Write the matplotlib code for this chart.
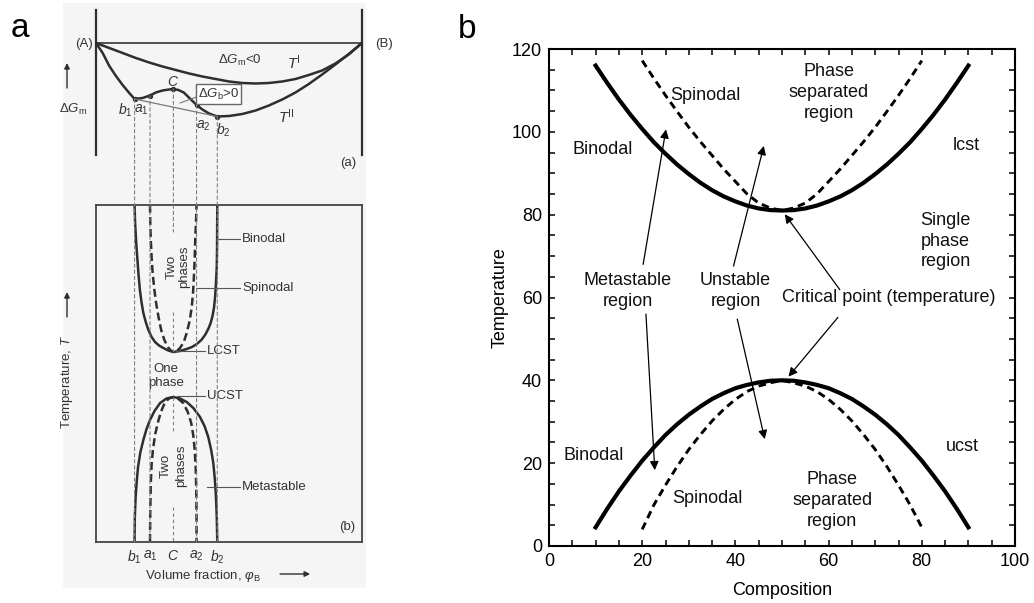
import matplotlib
matplotlib.use("Agg")
import matplotlib.pyplot as plt
from matplotlib.patches import ConnectionPatch, Rectangle
from matplotlib.ticker import MultipleLocator

plt.rcParams["font.family"] = ["Liberation Sans", "DejaVu Sans"]
plt.rcParams["mathtext.fontset"] = "custom"
plt.rcParams["mathtext.rm"] = "Liberation Sans"
plt.rcParams["mathtext.it"] = "Liberation Sans:italic"
plt.rcParams["mathtext.bf"] = "Liberation Sans:bold"

# ---------------- panel a: free-energy curves (upper part) ----------------
phi_T1 = [0, .05, .1, .15, .2, .25, .3, .35, .4, .45, .5, .55, .6, .65, .7,
          .75, .8, .85, .9, .95, 1.0]
dG_T1 = [0, -0.5, -1.0, -1.5, -1.95, -2.35, -2.7, -3.05, -3.35, -3.6, -3.85,
         -4.0, -4.05, -4.0, -3.85, -3.6, -3.2, -2.75, -2.05, -1.15, 0]

phi_T2 = [0, .025, .05, .075, .1, .125, .145, .175, .203, .225, .25, .275, .291,
          .31, .33, .355, .378, .4, .425, .456, .5, .55, .6, .65, .7, .75, .8,
          .85, .9, .95, 1.0]
dG_T2 = [0, -1.0, -2.3, -3.3, -4.2, -5.0, -5.6, -5.5, -5.25, -4.95, -4.75,
         -4.65, -4.6, -4.7, -4.95, -5.6, -6.2, -6.65, -7.05, -7.35, -7.3, -7.1,
         -6.75, -6.25, -5.65, -4.95, -4.1, -3.15, -2.15, -1.1, 0]

pt_names = ["$b_1$", "$a_1$", "$C$", "$a_2$", "$b_2$"]
pt_phi = [0.145, 0.203, 0.291, 0.378, 0.456]
pt_dG = [-5.6, -5.25, -4.6, -6.2, -7.35]

# ---------------- panel a: phase diagram (lower part) ----------------
lcst_bin_phi = [0.145, 0.147, 0.151, 0.155, 0.160, 0.165, 0.171, 0.178, 0.187,
                0.197, 0.209, 0.222, 0.237, 0.253, 0.272, 0.291, 0.316, 0.341,
                0.361, 0.379, 0.396, 0.410, 0.422, 0.431, 0.438, 0.444, 0.448,
                0.451, 0.454, 0.455, 0.456]
lcst_bin_T = [33.7, 31.9, 30.0, 28.5, 26.7, 25.2, 24.0, 22.9, 22.0,
              21.2, 20.5, 20.0, 19.65, 19.4, 19.15, 19.0, 19.1, 19.3,
              19.5, 19.8, 20.2, 20.7, 21.3, 21.9, 22.6, 23.5, 24.6,
              25.9, 27.5, 29.2, 33.7]
lcst_spin_phi = [0.203, 0.204, 0.206, 0.209, 0.213, 0.219, 0.226, 0.235,
                 0.245, 0.257, 0.270, 0.281, 0.291, 0.303, 0.316, 0.330,
                 0.341, 0.352, 0.360, 0.365, 0.368, 0.371, 0.373, 0.376, 0.378]
lcst_spin_T = [33.7, 32.0, 30.2, 28.5, 26.9, 25.3, 23.9, 22.5,
               21.2, 20.2, 19.5, 19.15, 19.0, 19.1, 19.4, 20.0,
               20.9, 22.1, 23.5, 25.0, 26.5, 28.3, 30.2, 32.0, 33.7]
ucst_bin_phi = [0.145, 0.146, 0.149, 0.153, 0.158, 0.167, 0.178, 0.190, 0.203,
                0.220, 0.241, 0.265, 0.291, 0.316, 0.341, 0.366, 0.391, 0.408,
                0.422, 0.433, 0.441, 0.447, 0.451, 0.454, 0.456]
ucst_bin_T = [0, 2.5, 4.5, 6.0, 7.5, 9.0, 10.2, 11.3, 12.2,
              13.1, 13.9, 14.35, 14.5, 14.35, 14.0, 13.4, 12.5, 11.6,
              10.5, 9.2, 7.9, 6.2, 4.5, 2.5, 0]
ucst_spin_phi = [0.203, 0.204, 0.206, 0.209, 0.214, 0.222, 0.232, 0.244,
                 0.258, 0.274, 0.291, 0.310, 0.328, 0.345, 0.358, 0.366,
                 0.371, 0.375, 0.377, 0.378, 0.378]
ucst_spin_T = [0, 3.0, 5.9, 7.7, 9.2, 10.7, 11.9, 13.0,
               13.9, 14.35, 14.5, 14.3, 13.9, 13.0, 11.9, 10.6,
               9.2, 7.3, 5.2, 2.5, 0]

# ---------------- panel b: temperature-composition diagram ----------------
comp_bin = [10, 12.5, 15, 17.5, 20, 22.5, 25, 27.5, 30, 32.5, 35, 37.5, 40,
            42.5, 45, 47.5, 50, 52.5, 55, 57.5, 60, 62.5, 65, 67.5, 70, 72.5,
            75, 77.5, 80, 82.5, 85, 87.5, 90]
lcst_binodal = [116.0, 111.8, 107.8, 104.1, 100.7, 97.5, 94.7, 92.1, 89.8,
                87.7, 85.9, 84.4, 83.2, 82.2, 81.5, 81.1, 81.0, 81.1, 81.5,
                82.2, 83.2, 84.4, 85.9, 87.7, 89.8, 92.1, 94.7, 97.5, 100.7,
                104.1, 107.8, 111.8, 116.0]
ucst_binodal = [4.5, 9.0, 13.2, 17.0, 20.6, 23.8, 26.8, 29.4, 31.7, 33.7,
                35.5, 36.9, 38.1, 38.9, 39.5, 39.9, 40.0, 39.9, 39.5, 38.9,
                38.1, 36.9, 35.5, 33.7, 31.7, 29.4, 26.8, 23.8, 20.6, 17.0,
                13.2, 9.0, 4.5]
comp_spin = [20, 22.5, 25, 27.5, 30, 32.5, 35, 37.5, 40, 42.5, 45, 47.5, 50,
             52.5, 55, 57.5, 60, 62.5, 65, 67.5, 70, 72.5, 75, 77.5, 80]
lcst_spinodal = [117.2, 112.9, 108.8, 104.9, 101.1, 97.6, 94.3, 91.0, 88.0,
                 85.0, 82.8, 81.6, 81.0, 81.6, 82.8, 85.0, 88.0, 91.0, 94.3,
                 97.6, 101.1, 104.9, 108.8, 112.9, 117.2]
ucst_spinodal = [4.0, 9.9, 14.7, 19.2, 23.3, 26.9, 30.2, 33.0, 35.4, 37.3,
                 38.6, 39.4, 40.0, 39.4, 38.6, 37.3, 35.4, 33.0, 30.2, 26.9,
                 23.3, 19.2, 14.7, 9.9, 4.5]

W, H = 1034, 603
fig = plt.figure(figsize=(W / 100, H / 100), dpi=100)


def px_box(x0, y0, x1, y1):
    return [x0 / W, 1 - y1 / H, (x1 - x0) / W, (y1 - y0) / H]


INK = "#2e2e2e"
TXT = "#333333"
GRID = "#808080"
FS_A = 9.5

# light tint behind the scanned schematic
fig.patches.append(Rectangle((63 / W, 1 - 588 / H), (366 - 63) / W, 585 / H,
                             transform=fig.transFigure, facecolor="#f5f5f5",
                             edgecolor="none", zorder=-10))

# ---- upper schematic: Gibbs energy of mixing ----
ax_top = fig.add_axes(px_box(96, 10, 362, 155))
ax_top.set_facecolor("none")
ax_top.set_xlim(0, 1)
ax_top.set_ylim(-11.2, 3.3)
ax_top.set_xticks([])
ax_top.set_yticks([])
for side in ("top", "bottom"):
    ax_top.spines[side].set_visible(False)
for side in ("left", "right"):
    ax_top.spines[side].set_linewidth(1.6)
    ax_top.spines[side].set_color(INK)
ax_top.axhline(0, color="#444444", lw=1.3)
ax_top.plot(phi_T1, dG_T1, color=INK, lw=1.8)
ax_top.plot(phi_T2, dG_T2, color=INK, lw=1.8)
ax_top.plot(pt_phi, pt_dG, "o", color=INK, ms=2.8)
# common tangent b1-b2
ax_top.plot([pt_phi[0], pt_phi[4]], [pt_dG[0], pt_dG[4]], color="#777777", lw=0.9)

ax_top.text(-0.011, -0.1, "(A)", ha="right", va="center", fontsize=FS_A, color=TXT)
ax_top.text(1.049, -0.1, "(B)", ha="left", va="center", fontsize=FS_A, color=TXT)
ax_top.text(0.541, -1.7, r"$\Delta G_\mathrm{m}$<0", ha="center", va="center",
            fontsize=FS_A, color=TXT)
ax_top.text(0.745, -2.0, r"$T^{\mathrm{I}}$", ha="center", va="center",
            fontsize=FS_A + 1, color=TXT)
ax_top.text(0.715, -7.4, r"$T^{\mathrm{II}}$", ha="center", va="center",
            fontsize=FS_A + 1, color=TXT)
lab_off = [(-0.036, -1.1), (-0.031, -1.45), (0.0, 0.75), (0.026, -2.1), (0.023, -1.35)]
for name, x, y, (dx, dy) in zip(pt_names, pt_phi, pt_dG, lab_off):
    ax_top.text(x + dx, y + dy, name, ha="center", va="center",
                fontsize=FS_A + 0.5, color=TXT)
ax_top.text(0.462, -5.1, r"$\Delta G_\mathrm{b}$>0", ha="center", va="center",
            fontsize=FS_A, color=TXT,
            bbox=dict(boxstyle="square,pad=0.15", facecolor="white",
                      edgecolor="#666666", lw=1.0))
ax_top.plot([0.378, 0.316], [-5.4, -6.0], color="#777777", lw=0.8)
ax_top.text(0.947, -12.0, "(a)", ha="center", va="center", fontsize=FS_A,
            color=TXT, clip_on=False)
ax_top.text(-0.085, -6.63, r"$\Delta G_\mathrm{m}$", ha="center", va="center",
            fontsize=FS_A, color=TXT, clip_on=False)
ax_top.annotate("", xy=(-0.109, -2.0), xytext=(-0.109, -4.5),
                xycoords="data", annotation_clip=False,
                arrowprops=dict(arrowstyle="-|>", color=INK, lw=1.0,
                                mutation_scale=8, shrinkA=0, shrinkB=0))

# ---- lower schematic: LCST / UCST phase diagram ----
ax_bot = fig.add_axes(px_box(96, 205, 362, 542))
ax_bot.set_facecolor("none")
ax_bot.set_xlim(0, 1)
ax_bot.set_ylim(0, 33.7)
for s in ax_bot.spines.values():
    s.set_linewidth(1.3)
    s.set_color("#444444")
ax_bot.set_yticks([])
ax_bot.set_xticks(pt_phi, pt_names)
ax_bot.tick_params(axis="x", length=0, pad=5, labelsize=FS_A + 0.5, labelcolor=TXT)

ax_bot.plot(lcst_bin_phi, lcst_bin_T, color=INK, lw=1.8)
ax_bot.plot(lcst_spin_phi, lcst_spin_T, color=INK, lw=1.8, dashes=(3.2, 1.6))
ax_bot.plot(ucst_bin_phi, ucst_bin_T, color=INK, lw=1.8)
ax_bot.plot(ucst_spin_phi, ucst_spin_T, color=INK, lw=1.8, dashes=(3.2, 1.6))

# guide lines dropping from the energy curve to the phase diagram
dot_style = dict(color=GRID, lw=0.8, linestyle=(0, (3, 2.5)))
phi_c = pt_phi[2]
for x, g in zip(pt_phi, pt_dG):
    end = 31.0 if x == phi_c else 0.0
    fig.add_artist(ConnectionPatch(xyA=(x, g), coordsA=ax_top.transData,
                                   xyB=(x, end), coordsB=ax_bot.transData,
                                   **dot_style))
for y0, y1 in [(23.0, min(lcst_bin_T)), (max(ucst_bin_T), 10.9), (3.5, 0.0)]:
    ax_bot.plot([phi_c, phi_c], [y0, y1], **dot_style)

leaders = [("Binodal", 0.459, 0.541, 0.549, 30.3),
           ("Spinodal", 0.380, 0.541, 0.549, 25.4),
           ("LCST", 0.300, 0.410, 0.417, 19.1),
           ("UCST", 0.305, 0.410, 0.417, 14.6),
           ("Metastable", 0.416, 0.541, 0.549, 5.5)]
for label, x0, x1, xt, y in leaders:
    ax_bot.plot([x0, x1], [y, y], color="#555555", lw=0.8)
    ax_bot.text(xt, y, label, ha="left", va="center", fontsize=FS_A, color=TXT)

ax_bot.text(0.263, 16.6, "One\nphase", ha="center", va="center",
            fontsize=FS_A, color=TXT, linespacing=1.15)
ax_bot.text(0.308, 27.5, "Two\nphases", ha="center", va="center", rotation=90,
            fontsize=FS_A, color=TXT, linespacing=1.0)
ax_bot.text(0.290, 7.6, "Two\nphases", ha="center", va="center", rotation=90,
            fontsize=FS_A, color=TXT, linespacing=1.35)
ax_bot.text(0.944, 1.5, "(b)", ha="center", va="center", fontsize=FS_A, color=TXT)
ax_bot.text(-0.109, 16.0, "Temperature, $T$", ha="center", va="center",
            rotation=90, fontsize=FS_A, color=TXT, clip_on=False)
ax_bot.annotate("", xy=(-0.109, 25.0), xytext=(-0.109, 22.5),
                annotation_clip=False,
                arrowprops=dict(arrowstyle="-|>", color=INK, lw=1.0,
                                mutation_scale=8, shrinkA=0, shrinkB=0))
ax_bot.text(0.402, -3.45, r"Volume fraction, $\varphi_\mathrm{B}$", ha="center",
            va="center", fontsize=FS_A, color=TXT, clip_on=False)
ax_bot.annotate("", xy=(0.805, -3.2), xytext=(0.692, -3.2),
                annotation_clip=False,
                arrowprops=dict(arrowstyle="-|>", color=INK, lw=1.0,
                                mutation_scale=8, shrinkA=0, shrinkB=0))

# ---------------- panel b ----------------
axb = fig.add_axes(px_box(549, 49, 1015, 546))
axb.plot(comp_bin, lcst_binodal, color="black", lw=3.0)
axb.plot(comp_bin, ucst_binodal, color="black", lw=3.0)
axb.plot(comp_spin, lcst_spinodal, color="black", lw=2.1, dashes=(2.6, 1.7))
axb.plot(comp_spin, ucst_spinodal, color="black", lw=2.1, dashes=(2.6, 1.7))
axb.set_xlim(0, 100)
axb.set_ylim(0, 120)
axb.xaxis.set_major_locator(MultipleLocator(20))
axb.xaxis.set_minor_locator(MultipleLocator(5))
axb.yaxis.set_major_locator(MultipleLocator(20))
axb.yaxis.set_minor_locator(MultipleLocator(5))
axb.tick_params(which="both", direction="in", top=True, right=True,
                length=4.5, width=1.1, labelsize=13, pad=5)
for s in axb.spines.values():
    s.set_linewidth(1.5)
axb.set_xlabel("Composition", fontsize=13, labelpad=9)
axb.set_ylabel("Temperature", fontsize=13, labelpad=2)

FS_B = 13
notes = [("Phase\nseparated\nregion", 60.0, 109.5),
         ("Spinodal", 33.6, 108.7),
         ("Binodal", 11.6, 95.8),
         ("lcst", 89.6, 96.6),
         ("Single\nphase\nregion", 85.1, 73.6),
         ("Metastable\nregion", 16.9, 61.5),
         ("Unstable\nregion", 40.0, 61.5),
         ("Critical point (temperature)", 72.9, 60.0),
         ("Binodal", 9.6, 21.8),
         ("Spinodal", 33.9, 11.5),
         ("Phase\nseparated\nregion", 60.8, 11.0),
         ("ucst", 88.6, 24.0)]
for text, x, y in notes:
    axb.text(x, y, text, ha="center", va="center", fontsize=FS_B,
             color="#111111", linespacing=1.28)

arrows = [((20.2, 68.0), (25.1, 100.6)),
          ((39.6, 67.6), (46.1, 96.6)),
          ((62.4, 61.9), (50.6, 80.1)),
          ((20.8, 56.0), (22.7, 18.3)),
          ((40.4, 54.8), (46.3, 25.8)),
          ((62.0, 55.2), (51.4, 40.9))]
for tail, head in arrows:
    axb.annotate("", xy=head, xytext=tail,
                 arrowprops=dict(arrowstyle="-|>", color="black", lw=0.9,
                                 mutation_scale=13, shrinkA=0, shrinkB=0))

fig.text(11 / W, 1 - 37 / H, "a", fontsize=24, va="baseline", ha="left")
fig.text(458 / W, 1 - 38 / H, "b", fontsize=24, va="baseline", ha="left")

fig.savefig("out.png", dpi=100)
